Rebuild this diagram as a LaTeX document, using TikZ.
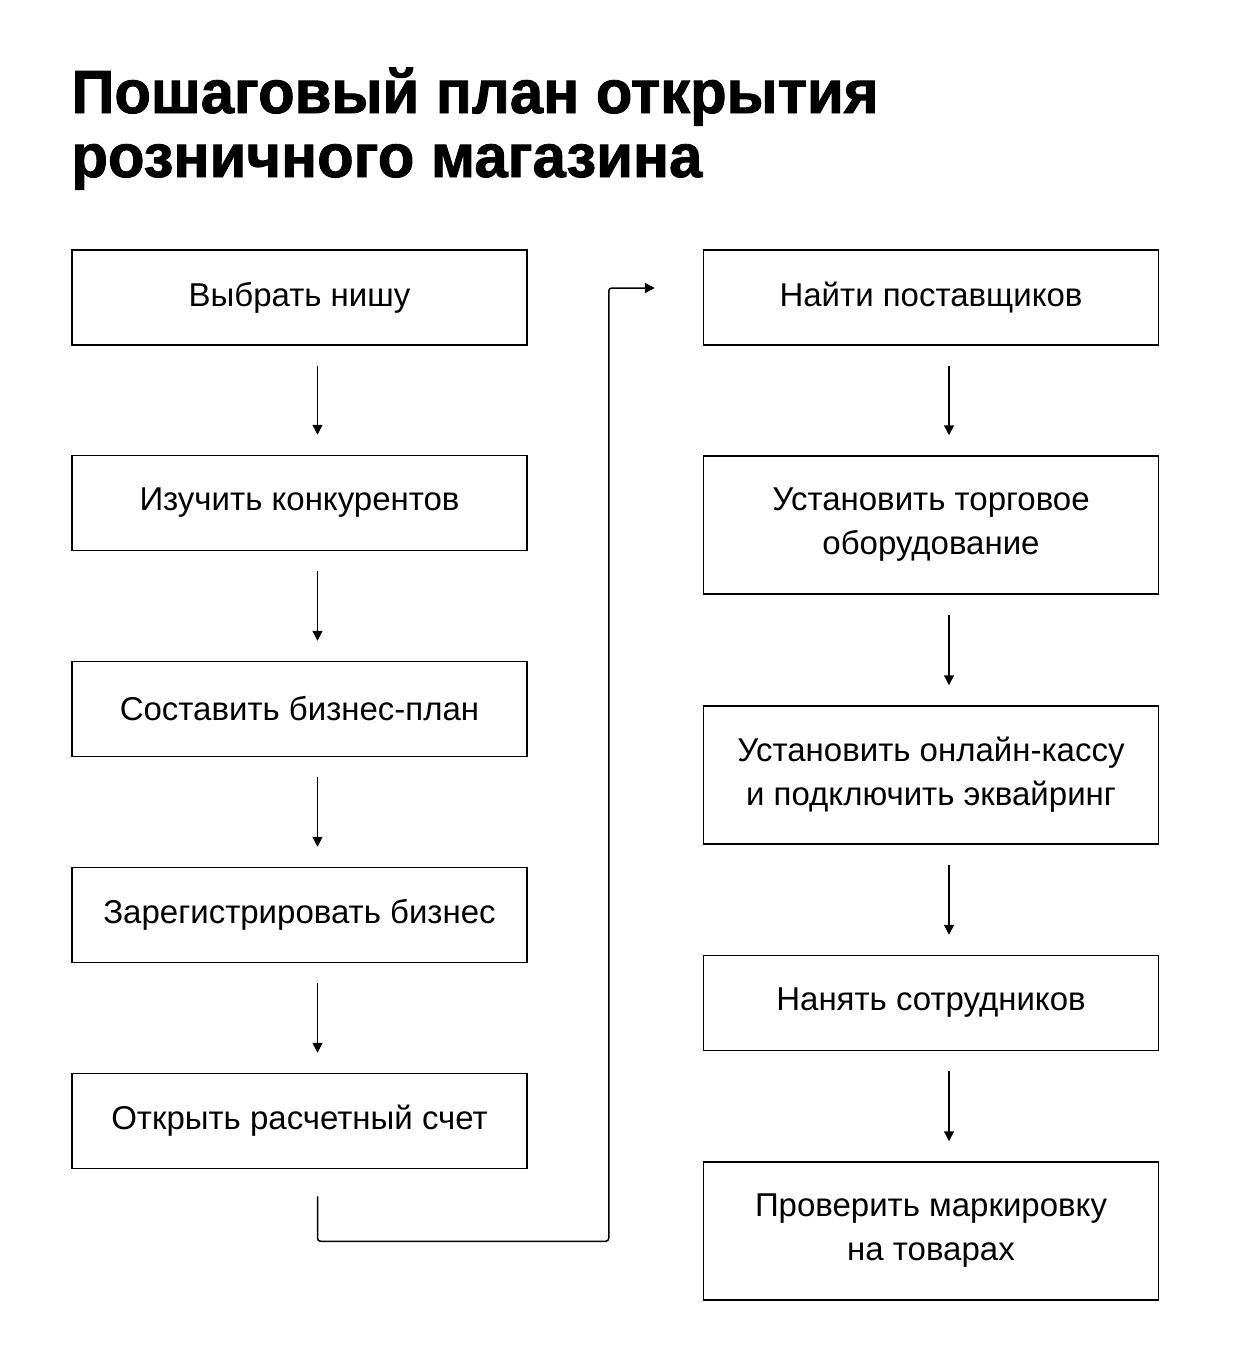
\documentclass[tikz,border=0pt]{standalone}
\usepackage{fontspec}
\setmainfont{Liberation Sans}
\newfontfamily\titlefont{Liberation Sans}[FakeBold=1.5]
\usepackage{tikz}
\usetikzlibrary{arrows.meta}
\def\STEP#1#2#3#4{\node [stepbox,minimum height=#3] (#1) at #2 {#4};}

\begin{document}
\begin{tikzpicture}[x=1pt,y=-1pt,
  stepbox/.style={draw,line width=1.5pt,minimum width=455pt,align=center,
    font=\fontsize{33}{44}\selectfont,inner sep=0pt},
  link/.style={line width=1.5pt,-{Triangle[length=10pt,width=10pt]}}]
\useasboundingbox (0,0) rectangle (1250,1362);
\node [anchor=base west,align=left,font=\fontsize{61}{64}\titlefont\bfseries,xscale=0.98]
  (title) at (68,177) {Пошаговый план открытия\\розничного магазина};
% left column
\STEP{s1}{(299.5,297.5)}{95pt}{Выбрать нишу}
\STEP{s2}{(299.5,503)}{95pt}{Изучить конкурентов}
\STEP{s3}{(299.5,709)}{95pt}{Составить бизнес-план}
\STEP{s4}{(299.5,915)}{95pt}{Зарегистрировать бизнес}
\STEP{s5}{(299.5,1121)}{95pt}{Открыть расчетный счет}
% right column
\STEP{s6}{(931,297.5)}{95pt}{Найти поставщиков}
\STEP{s7}{(931,525)}{138pt}{Установить торговое\\оборудование}
\STEP{s8}{(931,775)}{138pt}{Установить онлайн-кассу\\и подключить эквайринг}
\STEP{s9}{(931,1003)}{95pt}{Нанять сотрудников}
\STEP{s10}{(931,1231)}{138pt}{Проверить маркировку\\на товарах}
\foreach \a/\b in {s1/s2,s2/s3,s3/s4,s4/s5,s6/s7,s7/s8,s8/s9,s9/s10}
  \draw [link] ([xshift=18pt,yshift=-20pt]\a.south) -- ([xshift=18pt,yshift=20pt]\b.north);
\draw [link,rounded corners=3pt] ([xshift=18pt,yshift=-27pt]s5.south) -- ++(0,-45pt)
  -| ([xshift=-94pt,yshift=9.5pt]s6.west) -- ([xshift=-48pt,yshift=9.5pt]s6.west);
\end{tikzpicture}
\end{document}
